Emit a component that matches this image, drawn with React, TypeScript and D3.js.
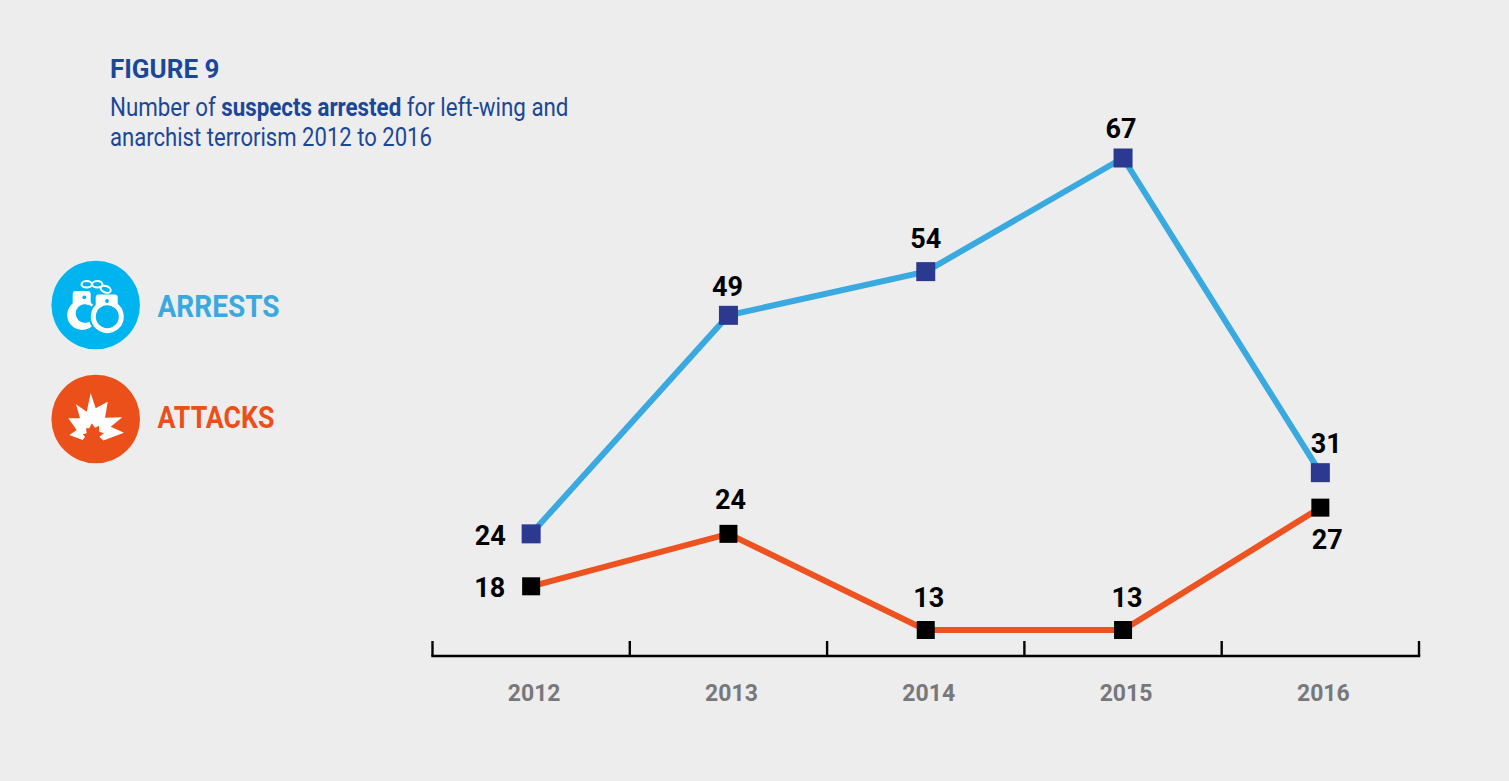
import { useEffect, useRef } from 'react';
import * as d3 from 'd3';

const years = ['2012', '2013', '2014', '2015', '2016'];
const arrests = [24, 49, 54, 67, 31];
const attacks = [18, 24, 13, 13, 27];

// label offsets from the point, per series
const arrestLabelPos = [
  { dx: -41, dy: 2 },
  { dx: -1, dy: -28 },
  { dx: 0, dy: -33 },
  { dx: -2, dy: -29 },
  { dx: 6, dy: -29 },
];
const attackLabelPos = [
  { dx: -41.5, dy: 2 },
  { dx: 2, dy: -34 },
  { dx: 3, dy: -32 },
  { dx: 4, dy: -32 },
  { dx: 7, dy: 32 },
];

const FONT = 'Roboto, sans-serif';
const W = 1509;
const H = 781;
const BLUE = '#1b4798';
const SKY = '#39a9e0';
const ORANGE = '#ee5220';
const ICON_ORANGE = '#ec501a';
const CYAN = '#00b5ef';

export default function App() {
  const svgRef = useRef<SVGSVGElement>(null);

  useEffect(() => {
    document.body.style.margin = '0';
    document.body.style.background = '#ededed';
    const svg = d3.select(svgRef.current);
    svg.selectAll('*').remove();

    svg.append('rect').attr('width', W).attr('height', H).attr('fill', '#ededed');

    const x = d3.scaleBand<string>().domain(years).range([432.5, 1419]);
    const cx = (d: string) => (x(d) || 0) + x.bandwidth() / 2;
    const y = d3.scaleLinear().domain([13, 67]).range([630, 158]);

    // axis
    const axisY = 656;
    const g = svg.append('g');
    const ticks = d3.range(years.length + 1).map(i => 432.5 + i * x.bandwidth());
    g.append('line')
      .attr('x1', 431.3).attr('x2', 1420.2)
      .attr('y1', axisY).attr('y2', axisY)
      .attr('stroke', '#000').attr('stroke-width', 2.6);
    ticks.forEach(t => {
      g.append('line')
        .attr('x1', t).attr('x2', t)
        .attr('y1', axisY - 15).attr('y2', axisY)
        .attr('stroke', '#000').attr('stroke-width', 2.4);
    });
    years.forEach(d => {
      g.append('text')
        .attr('x', cx(d) + 3).attr('y', 701)
        .attr('text-anchor', 'middle')
        .attr('font-family', FONT).attr('font-weight', 700).attr('font-size', 23)
        .attr('fill', '#77787b')
        .text(d);
    });

    const line = d3.line<number>()
      .x((_, i) => cx(years[i]))
      .y(v => y(v));

    const drawSeries = (
      values: number[],
      stroke: string,
      marker: string,
      size: number,
      labelPos: { dx: number; dy: number }[],
    ) => {
      g.append('path')
        .attr('d', line(values))
        .attr('fill', 'none')
        .attr('stroke', stroke)
        .attr('stroke-width', 6);
      values.forEach((v, i) => {
        g.append('rect')
          .attr('x', cx(years[i]) - size / 2).attr('y', y(v) - size / 2)
          .attr('width', size).attr('height', size)
          .attr('fill', marker);
        g.append('text')
          .attr('x', cx(years[i]) + labelPos[i].dx)
          .attr('y', y(v) + labelPos[i].dy + 9)
          .attr('text-anchor', 'middle')
          .attr('font-family', FONT).attr('font-weight', 700).attr('font-size', 27)
          .attr('fill', '#000')
          .text(v);
      });
    };
    drawSeries(arrests, SKY, '#2b3990', 19, arrestLabelPos);
    drawSeries(attacks, ORANGE, '#000', 18, attackLabelPos);

    // title
    g.append('text')
      .attr('x', 110).attr('y', 78)
      .attr('font-family', FONT).attr('font-weight', 700).attr('font-size', 26)
      .attr('fill', BLUE)
      .text('FIGURE 9');
    // subtitle is a condensed face in the original, so squeeze it horizontally
    const sub = g.append('text')
      .attr('transform', 'translate(110,116) scale(0.893,1)')
      .attr('font-family', FONT).attr('font-size', 25)
      .attr('fill', BLUE);
    sub.append('tspan').text('Number of ');
    sub.append('tspan').attr('font-weight', 700).text('suspects arrested');
    sub.append('tspan').text(' for left-wing and');
    g.append('text')
      .attr('transform', 'translate(110,146) scale(0.884,1)')
      .attr('font-family', FONT).attr('font-size', 25)
      .attr('fill', BLUE)
      .text('anarchist terrorism 2012 to 2016');

    // legend: handcuffs
    const cuffs = svg.append('g').attr('transform', 'translate(95.7,305)');
    cuffs.append('circle').attr('r', 44.3).attr('fill', CYAN);
    cuffs.append('circle').attr('cx', -13.5).attr('cy', 10).attr('r', 15).attr('fill', '#fff');
    cuffs.append('circle').attr('cx', -10.5).attr('cy', 8.5).attr('r', 9.5).attr('fill', CYAN);
    cuffs.append('path')
      .attr('d', 'M-23,1 L-23,-11 Q-23,-14 -20,-14 L-8,-14 Q-5,-14 -5,-11 L-5,0 L-12,-1 Z')
      .attr('fill', '#fff');
    cuffs.append('circle').attr('cx', 11.6).attr('cy', 11.7).attr('r', 18.5).attr('fill', CYAN);
    cuffs.append('circle').attr('cx', 11.6).attr('cy', 11.7).attr('r', 14)
      .attr('fill', CYAN).attr('stroke', '#fff').attr('stroke-width', 5);
    cuffs.append('path')
      .attr('d', 'M0,4 L0,-7.5 Q0,-10.5 3,-10.5 L19,-10.5 Q22,-10.5 22,-7.5 L22,4 L11,-1 Z')
      .attr('fill', '#fff');
    cuffs.append('circle').attr('cx', -11.4).attr('cy', -7.7).attr('r', 1.9).attr('fill', CYAN);
    cuffs.append('circle').attr('cx', 11.3).attr('cy', -4).attr('r', 1.9).attr('fill', CYAN);
    [[-9, -20.7, 0], [1.6, -20.7, 0], [10, -15.7, 20]].forEach(([ax, ay, rot]) => {
      cuffs.append('ellipse')
        .attr('transform', `translate(${ax},${ay}) rotate(${rot})`)
        .attr('rx', 5.2).attr('ry', 3.2)
        .attr('fill', 'none').attr('stroke', '#fff').attr('stroke-width', 2);
    });

    // legend: explosion, the inner burst is a notch in the outer shape
    const blast = svg.append('g').attr('transform', 'translate(95.7,419)');
    blast.append('circle').attr('r', 44.3).attr('fill', ICON_ORANGE);
    blast.append('path')
      .attr('d', 'M-5,-25.7 L0,-10.7 L12,-17.3 L9.3,-1.3 L26.6,-1.7 L15,7.7 L28.3,13.7 L7.6,21.5 '
        + 'L3.6,17.7 L8.3,14.3 L3.6,12.7 L3.3,6.7 L-0.7,8.7 L-4,4.3 L-6.4,9.3 L-9.7,9.3 L-9,14.3 L-13,15.3 L-10.7,17.7 L-13,21 '
        + 'L-26.4,16 L-19,11 L-27.4,-0.7 L-15.7,-0.7 L-19.7,-14.7 L-9,-7.3 Z')
      .attr('fill', '#fff');

    const legendText = (label: string, yPos: number, color: string, len: number) => {
      svg.append('text')
        .attr('x', 157.5).attr('y', yPos)
        .attr('font-family', FONT).attr('font-weight', 700).attr('font-size', 31)
        .attr('textLength', len)
        .attr('lengthAdjust', 'spacingAndGlyphs')
        .attr('fill', color)
        .text(label);
    };
    legendText('ARRESTS', 317, SKY, 122);
    legendText('ATTACKS', 428, ICON_ORANGE, 117);
  }, []);

  return <svg ref={svgRef} width={W} height={H} style={{ display: 'block' }} />;
}
